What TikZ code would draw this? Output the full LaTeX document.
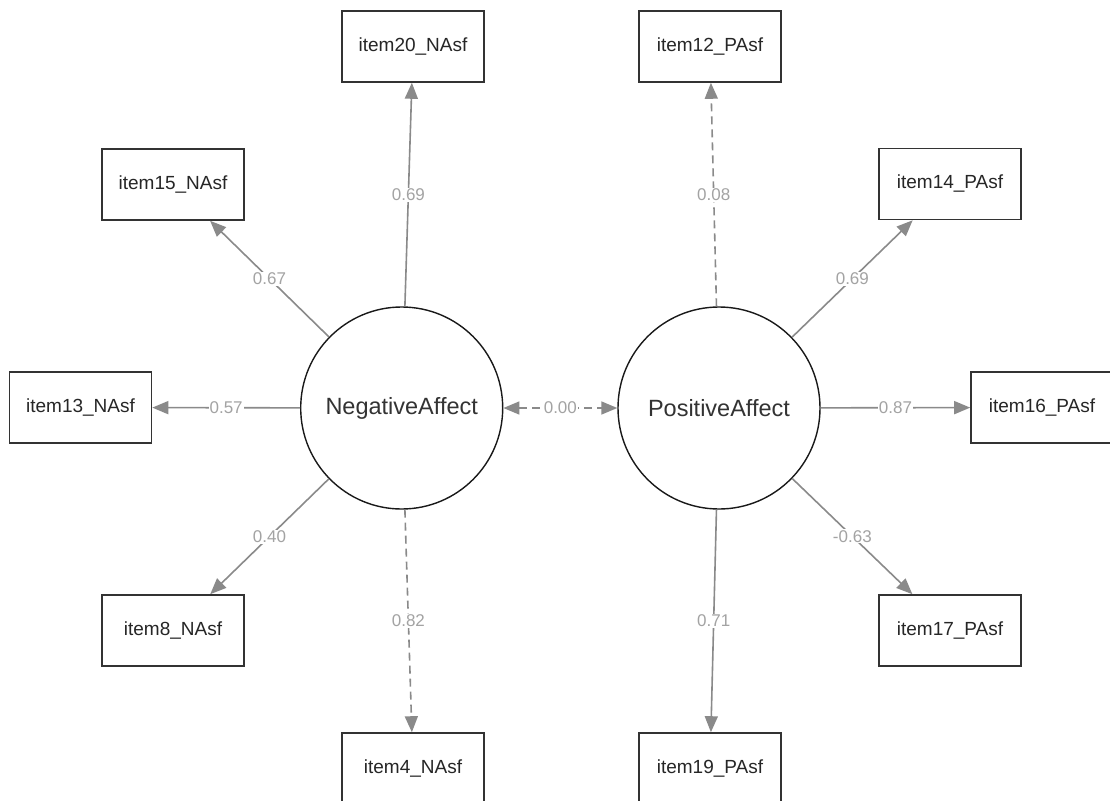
\documentclass[tikz,border=0pt]{standalone}
\usepackage{fontspec}
\setmainfont{Liberation Sans}
\usetikzlibrary{arrows.meta}
\definecolor{edgegray}{HTML}{8A8A8A}
\definecolor{labgray}{HTML}{A3A3A3}
\definecolor{boxline}{HTML}{333333}
\begin{document}
\begin{tikzpicture}[x=1pt,y=-1pt,
  item/.style={draw=boxline,line width=1.6pt,minimum width=142pt,minimum height=71pt,inner sep=0pt,font=\fontsize{19}{22}\selectfont,text=black!85},
  latent/.style={circle,draw=black!90,line width=1.4pt,minimum size=202pt,inner sep=0pt,font=\fontsize{23.5}{28}\selectfont,text=black!80},
  load/.style={draw=edgegray,line width=1.6pt,-{Triangle[length=16pt,width=13pt]}},
  dsh/.style={dash pattern=on 8pt off 5pt},
  lab/.style={fill=white,inner sep=1pt,text=labgray,font=\fontsize{17}{20}\selectfont}]
\useasboundingbox (0,0) rectangle (1110,800);
\fill[white] (0,0) rectangle (1110,800);
\node[latent] (NA) at (401.7,408) {NegativeAffect};
\node[latent] (PA) at (719,408) {PositiveAffect};
\node[item] (i20) at (413,46.5) {item20\_NAsf};
\node[item] (i15) at (173,184.5) {item15\_NAsf};
\node[item] (i13) at (80.5,407.5) {item13\_NAsf};
\node[item] (i8) at (173,630.5) {item8\_NAsf};
\node[item] (i4) at (413,768.5) {item4\_NAsf};
\node[item] (i12) at (710,46.5) {item12\_PAsf};
\node[item] (i14) at (950,184) {item14\_PAsf};
\node[item] (i16) at (1042,407.5) {item16\_PAsf};
\node[item] (i17) at (950,630.5) {item17\_PAsf};
\node[item] (i19) at (710,768.5) {item19\_PAsf};
\draw[load] (NA) -- node[lab] {0.69} (i20);
\draw[load] (NA) -- node[lab] {0.67} (i15);
\draw[load] (NA) -- node[lab] {0.57} (i13);
\draw[load] (NA) -- node[lab] {0.40} (i8);
\draw[load,dsh] (NA) -- node[lab] {0.82} (i4);
\draw[load,dsh] (PA) -- node[lab] {0.08} (i12);
\draw[load] (PA) -- node[lab] {0.69} (i14);
\draw[load] (PA) -- node[lab] {0.87} (i16);
\draw[load] (PA) -- node[lab] {-0.63} (i17);
\draw[load] (PA) -- node[lab] {0.71} (i19);
\draw[load,dsh,{Triangle[length=16pt,width=13pt]}-{Triangle[length=16pt,width=13pt]}] (NA) -- node[lab] {0.00} (PA);
\end{tikzpicture}
\end{document}
